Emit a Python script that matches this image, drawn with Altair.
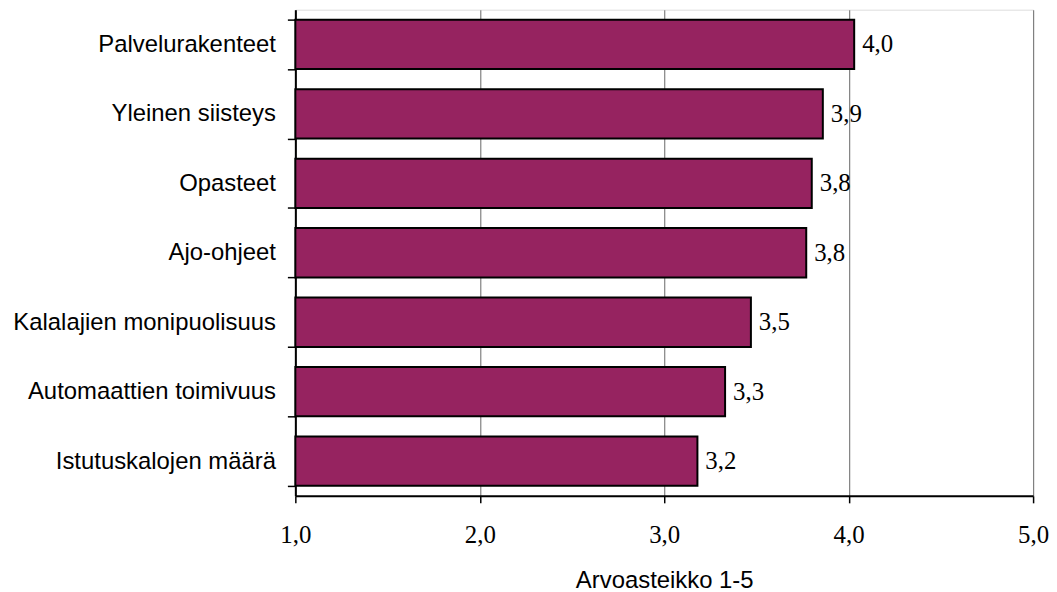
import altair as alt
import pandas as pd

categories = [
    "Palvelurakenteet",
    "Yleinen siisteys",
    "Opasteet ",
    "Ajo-ohjeet",
    "Kalalajien monipuolisuus",
    "Automaattien toimivuus ",
    "Istutuskalojen määrä",
]
values = [4.03, 3.86, 3.80, 3.77, 3.47, 3.33, 3.18]
x_ticks = [1, 2, 3, 4, 5]

df = pd.DataFrame({"category": categories, "value": values})

SANS = "Liberation Sans"
SERIF = "Liberation Serif"
BAR = "#962360"

x_scale = alt.Scale(domain=[1, 5], nice=False, zero=False)
y_scale = alt.Scale(paddingInner=0.29, paddingOuter=0.145)

base = alt.Chart(df)

bars = base.mark_bar(color=BAR, stroke="black", strokeWidth=2).encode(
    y=alt.Y(
        "category:N",
        sort=categories,
        scale=y_scale,
        axis=alt.Axis(
            title=None,
            labelFont=SANS,
            labelFontSize=24,
            labelColor="black",
            labelPadding=12,
            labelLimit=400,
            tickBand="extent",
            tickSize=8,
            tickColor="black",
            tickWidth=1.5,
            domainColor="black",
            domainWidth=2,
            grid=False,
        ),
    ),
    x=alt.X(
        "value:Q",
        scale=x_scale,
        axis=alt.Axis(
            title="Arvoasteikko 1-5",
            titleFont=SANS,
            titleFontSize=24,
            titleFontWeight="normal",
            titleColor="black",
            titleBaseline="alphabetic",
            titleY=92,
            values=x_ticks,
            labelExpr="replace(format(datum.value, '.1f'), '.', ',')",
            labelFont=SERIF,
            labelFontSize=25,
            labelColor="black",
            labelPadding=20,
            labelFlush=False,
            tickSize=7,
            tickColor="black",
            tickWidth=1.5,
            domainColor="black",
            domainWidth=2,
            grid=True,
            gridColor="#808080",
            gridWidth=1.2,
        ),
    ),
    x2=alt.datum(1),
)

text = base.transform_calculate(
    label="replace(format(datum.value, '.1f'), '.', ',')"
).mark_text(
    align="left", baseline="middle", dx=8, font=SERIF, fontSize=25, color="black"
).encode(
    y=alt.Y("category:N", sort=categories, scale=y_scale),
    x=alt.X("value:Q", scale=x_scale),
    text="label:N",
)

chart = (
    alt.layer(bars, text)
    .properties(
        width=742,
        height=489,
        autosize=alt.AutoSizeParams(type="none"),
        padding={"left": 289, "top": 0, "right": 16, "bottom": 95},
    )
    .configure_view(stroke="#808080", strokeWidth=2)
    .configure(background="white")
)

chart.save("out.html", embed_options={"renderer": "svg", "actions": False})
